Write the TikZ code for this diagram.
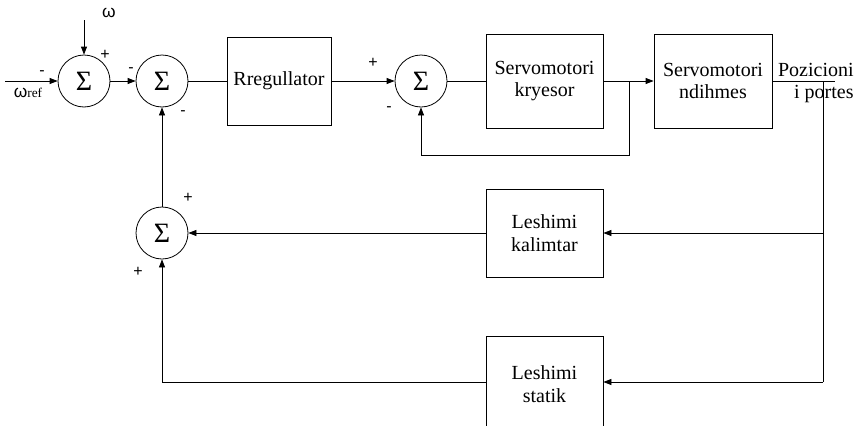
\documentclass[tikz,border=0pt]{standalone}
\usepackage{fontspec}
\setmainfont{Liberation Serif}
\newfontfamily\lsans{Liberation Sans}
\usetikzlibrary{arrows.meta}
\begin{document}
\begin{tikzpicture}[x=0.75pt,y=-0.75pt, line width=0.6pt,
 sumnode/.style={draw,circle,minimum size=39pt,inner sep=0pt,font=\fontsize{21}{21}\selectfont},
 block/.style={draw,align=center,font=\fontsize{15}{17}\selectfont,inner sep=0pt},
 sgn/.style={font=\lsans\fontsize{12}{12}\selectfont,inner sep=0pt},
 arr/.style={-{Triangle[length=6pt,width=4.5pt]}}]
\useasboundingbox (0,0) rectangle (857,425);
% summing junctions
\node[sumnode] (s1) at (84,81) {Σ};
\node[sumnode] (s2) at (162,81) {Σ};
\node[sumnode] (s3) at (421,81) {Σ};
\node[sumnode] (s4) at (162,233) {Σ};
% blocks
\node[block,minimum width=78pt,minimum height=66pt] (reg) at (279,81) {Rregullator};
\node[block,minimum width=87.75pt,minimum height=70.5pt] (kry) at (544.5,81) {Servomotori\\kryesor};
\node[block,minimum width=88.5pt,minimum height=70.5pt] (ndi) at (713,81) {Servomotori\\ndihmes};
\node[block,minimum width=87.75pt,minimum height=66pt] (kal) at (544.5,233) {Leshimi\\kalimtar};
\node[block,minimum width=87.75pt,minimum height=72pt] (sta) at (544.5,384) {Leshimi\\statik};
% coordinates
\coordinate (in) at (5,81);
\coordinate (wtop) at (84,20);
\coordinate (j1) at (629,81);
\coordinate (out) at (835,81);
\coordinate (j2) at (823,81);
\coordinate (j3) at (823,382);
% connectors
\draw[arr] (in) -- (s1);
\draw[arr] (wtop) -- (s1.north);
\draw[arr] (s1) -- (s2);
\draw (s2) -- (reg);
\draw[arr] (reg) -- (s3);
\draw (s3) -- (kry);
\draw[arr] (kry) -- (ndi);
\draw[arr] (j1) -- ++(0,74) -| (s3.south);
\draw (ndi) -- (out);
\draw (j2) -- (j3);
\draw[arr] (j2 |- kal) -- (kal.east);
\draw[arr] (j3) -- (j3 -| sta.east);
\draw[arr] (kal) -- (s4);
\draw[arr] (j3 -| sta.west) -| (s4.south);
\draw[arr] (s4) -- (s2);
% labels
\node[font=\lsans\fontsize{13}{13}\selectfont,inner sep=0pt] (lw) at (109,13) {ω};
\node[inner sep=0pt] (lwref) at (28,93) {{\lsans\fontsize{13}{13}\selectfont ω}{\fontsize{10}{10}\selectfont ref}};
\node[sgn] (p1) at (42,73) {-};
\node[sgn] (p2) at (105,55) {+};
\node[sgn] (p3) at (131,70) {-};
\node[sgn] (p4) at (183,113) {-};
\node[sgn] (p5) at (373,63) {+};
\node[sgn] (p6) at (389,109) {-};
\node[sgn] (p7) at (188,198) {+};
\node[sgn] (p8) at (138,272) {+};
\node[anchor=east,align=right,inner sep=0pt,font=\fontsize{15}{17}\selectfont] (poz) at (854,83) {Pozicioni\\i portes};
\end{tikzpicture}
\end{document}
